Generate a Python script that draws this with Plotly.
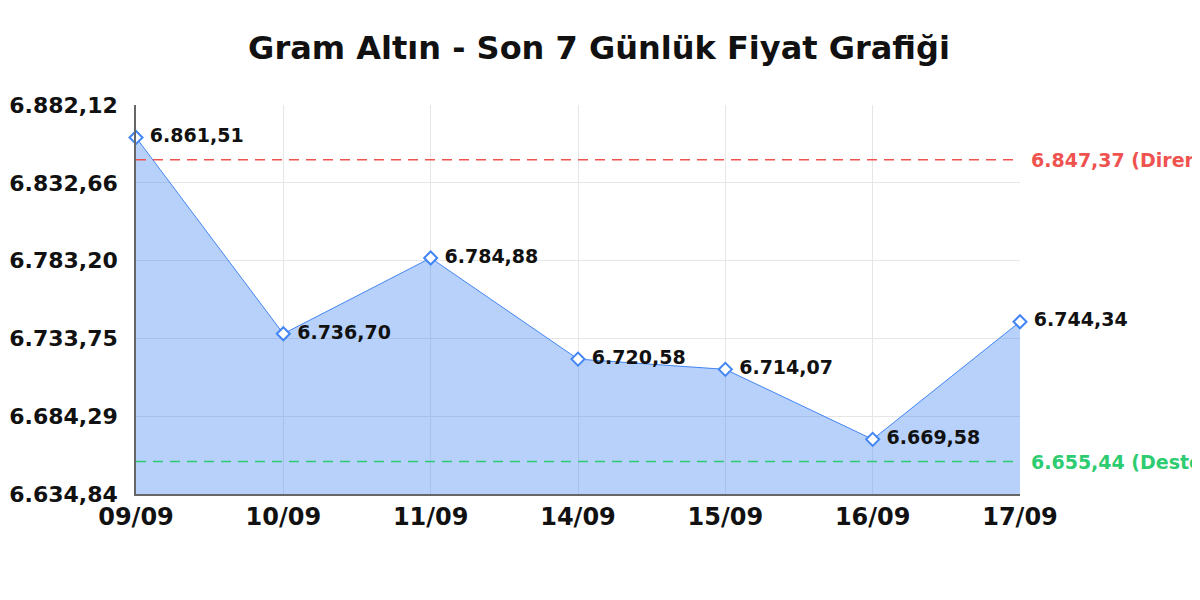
import plotly.graph_objects as go

days = ["09/09", "10/09", "11/09", "14/09", "15/09", "16/09", "17/09"]
prices = [6861.51, 6736.70, 6784.88, 6720.58, 6714.07, 6669.58, 6744.34]
resistance = 6847.37
support = 6655.44
y_ticks = [6634.84, 6684.29, 6733.75, 6783.20, 6832.66, 6882.12]

blue = "#4285f4"
font_name = "DejaVu Sans"


def tr_num(v):
    # Turkish style: 6.861,51
    return f"{v:,.2f}".replace(",", "X").replace(".", ",").replace("X", ".")


fig = go.Figure()

fig.add_trace(go.Scatter(
    x=days, y=prices,
    mode="lines+markers+text",
    line=dict(color=blue, width=1),
    fill="tozeroy",
    fillcolor="rgba(66,133,244,0.38)",
    marker=dict(symbol="diamond", size=10, color="white",
                line=dict(color=blue, width=2)),
    text=[" " + tr_num(p) for p in prices],
    textposition="middle right",
    textfont=dict(family=font_name, size=19, color="#111", weight="bold"),
    cliponaxis=False,
    showlegend=False,
))

# support / resistance lines
fig.add_hline(y=resistance, line=dict(color="#ef5350", width=1.5, dash="10px,7px"))
fig.add_hline(y=support, line=dict(color="#2ecc71", width=1.5, dash="10px,7px"))
fig.add_annotation(x=1.01, xref="paper", y=resistance, yref="y", xanchor="left",
                   text="<b>" + tr_num(resistance) + " (Direnç)</b>", showarrow=False,
                   font=dict(family=font_name, size=19, color="#ef5350"))
fig.add_annotation(x=1.01, xref="paper", y=support, yref="y", xanchor="left",
                   text="<b>" + tr_num(support) + " (Destek)</b>", showarrow=False,
                   font=dict(family=font_name, size=19, color="#2ecc71"))

fig.update_layout(
    width=1200, height=600,
    separators=",.",
    title=dict(text="<b>Gram Altın - Son 7 Günlük Fiyat Grafiği</b>", x=0.4925, y=0.933,
               xanchor="center", yanchor="middle",
               font=dict(family=font_name, size=32, color="#111")),
    margin=dict(l=128, r=188, t=97, b=114),
    plot_bgcolor="white", paper_bgcolor="white",
    font=dict(family=font_name),
)
fig.update_xaxes(type="category", range=[0, 6], showgrid=True, gridcolor="#e6e6e6",
                 showline=True, linecolor="#666", linewidth=1.5,
                 tickfont=dict(family=font_name, size=24, color="#111", weight="bold"),
                 ticks="", automargin=False)
fig.update_yaxes(range=[y_ticks[0], y_ticks[-1]], tickvals=y_ticks, tickformat=",.2f",
                 showgrid=True, gridcolor="#e6e6e6",
                 showline=True, linecolor="#666", linewidth=1.5,
                 tickfont=dict(family=font_name, size=22, color="#111", weight="bold"),
                 ticks="", ticklabelstandoff=12, automargin=False,
                 zeroline=False)

fig.write_html("out.html")
